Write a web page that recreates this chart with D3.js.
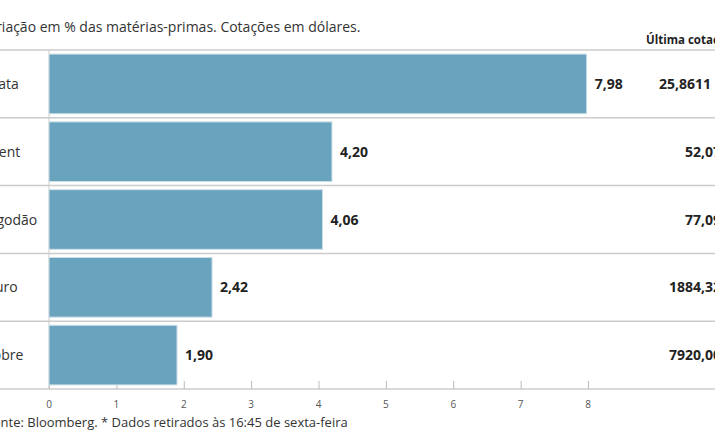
<!DOCTYPE html>
<html><head><meta charset="utf-8">
<script src="https://cdn.jsdelivr.net/npm/d3@7"></script>
<style>body{margin:0;background:#fff}svg{font-family:"Open Sans",sans-serif}</style>
</head><body><div id="chart-area"></div>
<script>
const categories = ["Prata", "Brent", "Algodão", "Ouro", "Cobre"];
const variation = [7.98, 4.20, 4.06, 2.42, 1.90];
const lastQuote = ["25,8611", "52,07", "77,09", "1884,32", "7920,00"];
const ticks = [0, 1, 2, 3, 4, 5, 6, 7, 8];

const width = 715, height = 445;
const svg = d3.select("#chart-area").append("svg").attr("width", width).attr("height", height);

const xScale = d3.scaleLinear().domain([0, 8]).range([49, 588]);
const yScale = d3.scaleBand().domain(categories).range([50, 389]).paddingInner(0.12).paddingOuter(0.06);
const rowScale = d3.scaleBand().domain(categories).range([50, 389]);

svg.append("text").attr("x", -20).attr("y", 32).attr("font-size", 14).attr("fill", "#333")
  .text("Variação em % das matérias-primas. Cotações em dólares.");
svg.append("text").attr("x", 646).attr("y", 44).attr("font-size", 11.5).attr("font-weight", "bold").attr("fill", "#222")
  .text("Última cotação*");

// row separators
svg.selectAll("line.sep").data([categories[0]].concat(categories)).enter().append("line")
  .attr("x1", 0).attr("x2", width)
  .attr("y1", (d, i) => i === 0 ? rowScale(d) : rowScale(d) + rowScale.bandwidth())
  .attr("y2", (d, i) => i === 0 ? rowScale(d) : rowScale(d) + rowScale.bandwidth())
  .attr("stroke", "#ccc").attr("stroke-width", 1.5);

svg.append("line").attr("x1", 49).attr("x2", 49).attr("y1", 50).attr("y2", 389).attr("stroke", "#ccc");

// axis
const xAxis = d3.axisTop(xScale).tickValues(ticks).tickSize(8).tickFormat("");
const ax = svg.append("g").attr("transform", "translate(0,389)").call(xAxis);
ax.select(".domain").remove();
ax.selectAll("line").attr("stroke", "#bbb");
svg.selectAll("text.tick").data(ticks).enter().append("text")
  .attr("x", d => xScale(d)).attr("y", 408).attr("text-anchor", "middle")
  .attr("font-size", 10).attr("fill", "#555").text(d => d);

svg.selectAll("rect.bar").data(categories).enter().append("rect")
  .attr("x", xScale(0)).attr("y", d => yScale(d))
  .attr("width", (d, i) => xScale(variation[i]) - xScale(0))
  .attr("height", yScale.bandwidth())
  .attr("fill", "#6aa3bd").attr("stroke", "#cfe0e8").attr("stroke-width", 1);

svg.selectAll("text.cat").data(categories).enter().append("text")
  .attr("x", -16).attr("y", d => rowScale(d) + rowScale.bandwidth() / 2 + 5)
  .attr("font-size", 14).attr("fill", "#333").text(d => d);

svg.selectAll("text.val").data(categories).enter().append("text")
  .attr("x", (d, i) => xScale(variation[i]) + 8).attr("y", d => rowScale(d) + rowScale.bandwidth() / 2 + 5)
  .attr("font-size", 14).attr("font-weight", "bold").attr("fill", "#222")
  .text((d, i) => variation[i].toFixed(2).replace(".", ","));

svg.selectAll("text.quote").data(categories).enter().append("text")
  .attr("x", (d, i) => i === 0 ? 659 : 721).attr("text-anchor", (d, i) => i === 0 ? "start" : "end")
  .attr("y", d => rowScale(d) + rowScale.bandwidth() / 2 + 5)
  .attr("font-size", 14).attr("font-weight", "bold").attr("fill", "#222")
  .text((d, i) => lastQuote[i]);

svg.append("text").attr("x", -14).attr("y", 427).attr("font-size", 13).attr("fill", "#333")
  .text("Fonte: Bloomberg.  * Dados retirados às 16:45 de sexta-feira");
</script></body></html>
